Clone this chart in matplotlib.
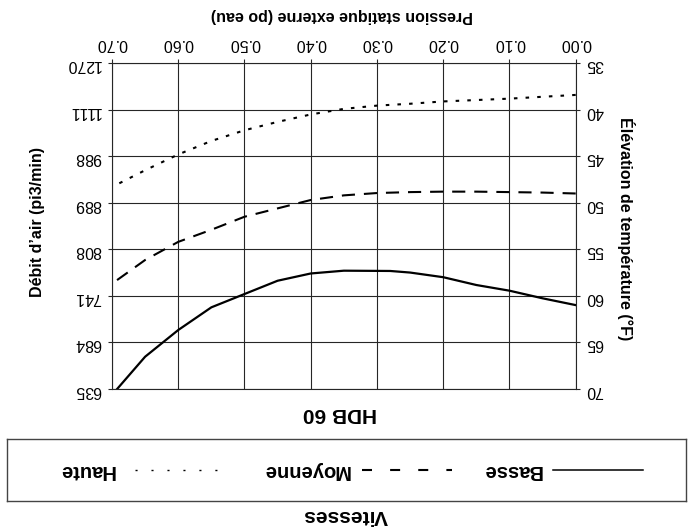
import matplotlib
matplotlib.use('Agg')
import matplotlib.pyplot as plt
from matplotlib.lines import Line2D

plt.rcParams['font.family'] = ['Liberation Sans', 'DejaVu Sans']

# static pressure (po eau) and temperature rise (°F)
pression = [0.00, 0.05, 0.10, 0.15, 0.20, 0.25, 0.30, 0.35, 0.40, 0.45, 0.50, 0.55, 0.60, 0.65, 0.70]
haute = [38.4, 38.6, 38.8, 38.95, 39.1, 39.35, 39.55, 39.9, 40.5, 41.3, 42.2, 43.35, 44.8, 46.5, 48.3]
moyenne = [49.0, 48.9, 48.85, 48.8, 48.8, 48.85, 48.95, 49.2, 49.7, 50.6, 51.5, 52.9, 54.2, 56.15, 58.7]
basse_p = [0.00, 0.05, 0.10, 0.15, 0.20, 0.25, 0.28, 0.35, 0.40, 0.45, 0.50, 0.55, 0.60, 0.65, 0.692]
basse = [61.0, 60.27, 59.45, 58.84, 58.0, 57.5, 57.33, 57.3, 57.6, 58.38, 59.81, 61.24, 63.68, 66.55, 70.0]

xticks = [0.0, 0.1, 0.2, 0.3, 0.4, 0.5, 0.6, 0.7]
xtick_labels = ['0.00', '0.10', '0.20', '0.30', '0.40', '0.50', '0.60', '0.70']
temps = [35, 40, 45, 50, 55, 60, 65, 70]
debits = ['1270', '1111', '988', '889', '808', '741', '684', '635']

vitesses = ['Haute', 'Moyenne', 'Basse']

W, H = 690, 529
fig = plt.figure(figsize=(6.9, 5.29), dpi=100)

def fx(px):
    return px / W

def fy(py):
    return 1 - py / H

L, R, T, B = 112, 575.7, 63.3, 388.8
ax = fig.add_axes([fx(L), fy(B), fx(R) - fx(L), fy(T) - fy(B)])
gridc = '#262626'

ax.plot(pression, haute, color='black', lw=1.5, dashes=(1.7, 3.9), solid_capstyle='butt')
ax.plot(pression, moyenne, color='black', lw=1.5, dashes=(6.3, 4.3))
ax.plot(basse_p, basse, color='black', lw=1.6, ls='-')

ax.set_xlim(0.70, 0.0)
ax.set_ylim(70, 35)
ax.set_xticks(xticks)
ax.set_xticklabels(xtick_labels, rotation=180)
ax.xaxis.tick_top()
ax.set_yticks(temps)
ax.set_yticklabels([str(t) for t in temps], rotation=180)
ax.grid(True, color=gridc, lw=0.8)
for s in ax.spines.values():
    s.set_color(gridc)
    s.set_linewidth(0.8)

# airflow scale on the left, same positions as the temperature ticks
ax2 = ax.twinx()
ax2.set_ylim(70, 35)
ax2.set_yticks(temps)
ax2.set_yticklabels(debits, rotation=180)
ax2.yaxis.tick_left()
ax2.tick_params(direction='out', length=3, width=0.8, color=gridc, labelsize=11.5, pad=5)
for s in ax2.spines.values():
    s.set_visible(False)

ax.yaxis.tick_right()
ax.tick_params(direction='out', length=3, width=0.8, color=gridc, labelsize=11.5)
ax.tick_params(axis='x', pad=6)
ax.tick_params(axis='y', pad=4)

fig.text(fx(342), fy(15), 'Pression statique externe (po eau)', rotation=180,
         ha='center', va='center', fontsize=11.5, fontweight='bold')
fig.text(fx(38), fy(222), 'Débit d’air (pi3/min)', rotation=90,
         ha='center', va='center', fontsize=11.5, fontweight='bold')
fig.text(fx(626), fy(229), 'Élévation de température (°F)', rotation=270,
         ha='center', va='center', fontsize=11.5, fontweight='bold')
fig.text(fx(340), fy(413), 'HDB 60', rotation=180,
         ha='center', va='center', fontsize=15, fontweight='bold')
fig.text(fx(345), fy(516), 'Vitesses', rotation=180,
         ha='center', va='center', fontsize=15, fontweight='bold')

# legend box (drawn rotated like the rest of the chart)
lx0, lx1, ly0, ly1 = 7, 686, 439, 501
lax = fig.add_axes([fx(lx0), fy(ly1), fx(lx1) - fx(lx0), fy(ly0) - fy(ly1)])
lax.set_xlim(lx0, lx1)
lax.set_ylim(ly1, ly0)
lax.set_xticks([])
lax.set_yticks([])
for s in lax.spines.values():
    s.set_color('#444444')
    s.set_linewidth(1.0)

handles = {
    'Haute': dict(dashes=(1.5, 10), lw=1.0),
    'Moyenne': dict(dashes=(4.8, 8.7), lw=1.5),
    'Basse': dict(ls='-', lw=1.1),
}
text_right = {'Haute': 115, 'Moyenne': 350, 'Basse': 542}
line_span = {'Haute': (135, 218), 'Moyenne': (362, 452), 'Basse': (553, 643)}
ym = 470
for v in vitesses:
    x0, x1 = line_span[v]
    lax.add_line(Line2D([x0, x1], [ym, ym], color='black', **handles[v]))
    lax.text(text_right[v], ym, v, rotation=180, ha='right', va='center',
             fontsize=14.5, fontweight='bold')

fig.savefig('out.png', dpi=100, facecolor='white')
